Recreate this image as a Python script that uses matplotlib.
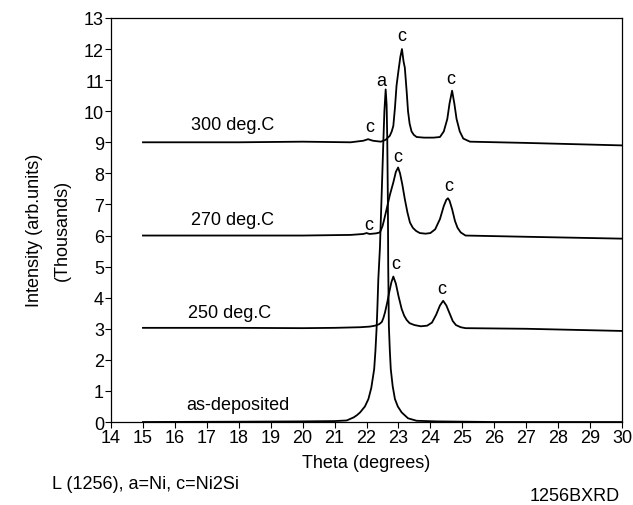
import matplotlib
matplotlib.use('Agg')
import matplotlib.pyplot as plt

plt.rcParams['font.family'] = ['Liberation Sans', 'DejaVu Sans']

# digitised XRD scans (theta in degrees, intensity in thousands)
asdep_theta = [15.0, 18.0, 20.0, 21.0, 21.38, 21.6, 21.7, 21.8, 21.95, 22.06, 22.15,
               22.24, 22.28, 22.32, 22.345, 22.37, 22.42, 22.48, 22.53, 22.56, 22.6,
               22.63, 22.65, 22.67, 22.68, 22.7, 22.73, 22.76, 22.82, 22.89, 22.98,
               23.1, 23.3, 23.57, 24.2, 26.0, 30.0]
asdep_int = [0.0, 0.01, 0.02, 0.03, 0.05, 0.15, 0.22, 0.31, 0.5, 0.74, 1.1,
             1.7, 2.3, 3.1, 3.8, 4.6, 5.6, 7.5, 9.1, 10.0, 10.7,
             10.2, 9.1, 7.0, 5.0, 3.1, 2.3, 1.7, 1.15, 0.74, 0.5,
             0.31, 0.12, 0.04, 0.02, 0.0, 0.0]

t250_theta = [15.0, 18.0, 20.0, 21.0, 21.8, 22.1, 22.27, 22.4, 22.48, 22.53, 22.58,
              22.65, 22.71, 22.78, 22.84, 22.92, 23.0, 23.1, 23.18, 23.26, 23.35,
              23.5, 23.7, 23.9, 24.05, 24.18, 24.3, 24.4, 24.5, 24.6, 24.7,
              24.8, 24.95, 25.1, 27.0, 30.0]
t250_int = [3.03, 3.03, 3.02, 3.03, 3.05, 3.07, 3.1, 3.15, 3.22, 3.35, 3.53,
            3.85, 4.17, 4.5, 4.68, 4.45, 4.06, 3.64, 3.42, 3.28, 3.18,
            3.12, 3.08, 3.1, 3.2, 3.45, 3.75, 3.9, 3.75, 3.5, 3.25,
            3.12, 3.05, 3.02, 3.0, 2.93]

t270_theta = [15.0, 18.0, 20.0, 21.5, 21.9, 22.0, 22.1, 22.3, 22.42, 22.5, 22.55,
              22.63, 22.73, 22.84, 22.92, 22.99, 23.05, 23.12, 23.2, 23.28, 23.36,
              23.45, 23.55, 23.67, 23.85, 24.0, 24.15, 24.3, 24.42, 24.5, 24.55,
              24.6, 24.68, 24.77, 24.85, 24.95, 25.1, 27.0, 30.0]
t270_int = [6.0, 6.0, 6.0, 6.02, 6.05, 6.08, 6.05, 6.07, 6.1, 6.3, 6.5,
            6.85, 7.3, 7.71, 8.05, 8.19, 8.0, 7.65, 7.17, 6.75, 6.42,
            6.25, 6.15, 6.08, 6.06, 6.08, 6.2, 6.53, 6.95, 7.15, 7.2,
            7.12, 6.85, 6.47, 6.25, 6.1, 6.0, 5.96, 5.9]

t300_theta = [15.0, 18.0, 20.0, 21.5, 21.9, 22.05, 22.2, 22.45, 22.6, 22.73, 22.79,
              22.84, 22.89, 22.94, 23.0, 23.06, 23.11, 23.16, 23.2, 23.26, 23.3,
              23.35, 23.41, 23.48, 23.57, 23.8, 24.1, 24.3, 24.42, 24.53, 24.6,
              24.68, 24.75, 24.82, 24.92, 25.03, 25.24, 27.0, 30.0]
t300_int = [9.0, 9.0, 9.02, 9.0, 9.05, 9.1, 9.05, 9.02, 9.08, 9.21, 9.35,
            9.53, 10.1, 10.82, 11.3, 11.75, 12.0, 11.6, 11.4, 10.6, 10.0,
            9.6, 9.35, 9.24, 9.17, 9.15, 9.15, 9.17, 9.35, 9.75, 10.25,
            10.66, 10.25, 9.75, 9.35, 9.12, 9.02, 8.98, 8.9]

curve_labels = ['as-deposited', '250 deg.C', '270 deg.C', '300 deg.C']
curve_label_x = [17.98, 17.7, 17.8, 17.8]
curve_label_y = [0.42, 3.37, 6.37, 9.42]

# peak markers
peak_theta = [22.47, 22.09, 23.11, 24.65, 22.06, 22.99, 24.56, 22.92, 24.35]
peak_int = [10.85, 9.35, 12.3, 10.9, 6.2, 8.4, 7.45, 4.95, 4.15]
peak_char = ['a', 'c', 'c', 'c', 'c', 'c', 'c', 'c', 'c']

fs = 13

fig = plt.figure(figsize=(6.33, 5.06), dpi=100)
ax = fig.add_axes([0.1754, 0.164, 0.8072, 0.7985])

for th, it in [(asdep_theta, asdep_int), (t250_theta, t250_int),
               (t270_theta, t270_int), (t300_theta, t300_int)]:
    ax.plot(th, it, color='black', lw=1.3)

for lab, x, y in zip(curve_labels, curve_label_x, curve_label_y):
    ax.text(x, y, lab, ha='center', va='baseline', fontsize=fs)

for th, it, ch in zip(peak_theta, peak_int, peak_char):
    ax.text(th, it, ch, ha='center', va='baseline', fontsize=fs)

ax.set_xlim(14, 30)
ax.set_ylim(0, 13)
ax.set_xticks(range(14, 31))
ax.set_yticks(range(0, 14))
ax.tick_params(direction='out', length=4, width=0.8, labelsize=fs, pad=1)
for s in ax.spines.values():
    s.set_linewidth(0.9)

ax.set_xlabel('Theta (degrees)', fontsize=fs, labelpad=6)
fig.text(35 / 633, 1 - 230 / 506, 'Intensity (arb.units)', rotation=90,
         ha='center', va='center', fontsize=fs)
fig.text(62 / 633, 1 - 230 / 506, '(Thousands)', rotation=90,
         ha='center', va='center', fontsize=fs)
fig.text(52 / 633, 1 - 485 / 506, 'L (1256), a=Ni, c=Ni2Si', ha='left',
         va='center', fontsize=fs)
fig.text(620 / 633, 1 - 497 / 506, '1256BXRD', ha='right', va='center',
         fontsize=fs)

fig.savefig('out.png', dpi=100)
